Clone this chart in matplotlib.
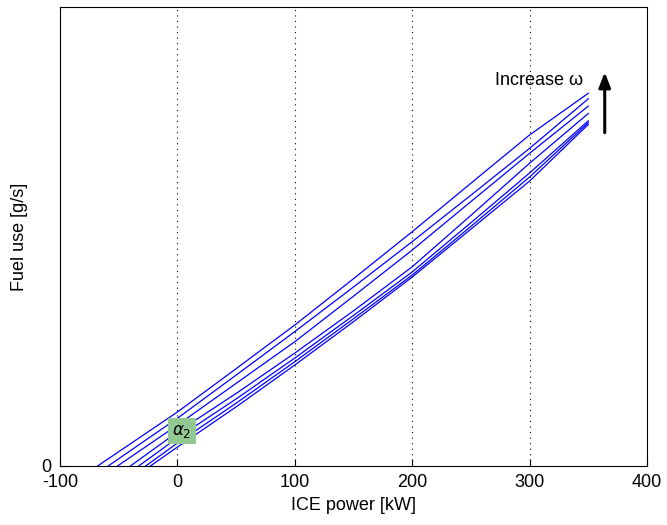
import matplotlib.pyplot as plt

plt.rcParams['font.family'] = ['Liberation Sans', 'DejaVu Sans']
plt.rcParams['axes.unicode_minus'] = False

# ICE power [kW] sample points per curve and fuel use [g/s]
x_points = [
    [-68, 0, 50, 100, 150, 200, 250, 300, 350],
    [-59, 0, 50, 100, 150, 200, 250, 300, 350],
    [-51, 0, 50, 100, 150, 200, 250, 300, 350],
    [-40, 0, 50, 100, 150, 200, 250, 300, 350],
    [-33, 0, 50, 100, 150, 200, 250, 300, 350],
    [-27, 0, 50, 100, 150, 200, 250, 300, 350],
    [-23, 0, 50, 100, 150, 200, 250, 300, 350],
]
fuel_use = [
    [0, 2.94, 5.30, 7.68, 10.20, 12.76, 15.40, 18.03, 20.30],
    [0, 2.60, 4.95, 7.32, 9.75, 12.22, 14.75, 17.30, 20.00],
    [0, 2.23, 4.50, 6.77, 9.25, 11.76, 14.40, 17.03, 19.60],
    [0, 1.85, 3.95, 6.15, 8.45, 10.85, 13.65, 16.49, 19.20],
    [0, 1.53, 3.65, 5.88, 8.20, 10.57, 13.25, 15.96, 18.80],
    [0, 1.25, 3.42, 5.68, 8.02, 10.40, 13.05, 15.74, 18.70],
    [0, 1.03, 3.22, 5.50, 7.86, 10.29, 12.90, 15.52, 18.60],
]

fig = plt.figure(figsize=(6.67, 5.25), dpi=100)
ax = fig.add_axes([0.090, 0.1124, 0.880, 0.8743])

for xs, ys in zip(x_points, fuel_use):
    ax.plot(xs, ys, color='#0000ff', lw=0.9)

ax.set_xlim(-100, 400)
ax.set_ylim(0, 25)
ax.set_xticks([-100, 0, 100, 200, 300, 400])
ax.set_yticks([0])
for xv in [0, 100, 200, 300]:
    ax.axvline(xv, color='black', ls=(0, (1, 4)), lw=0.8)
ax.tick_params(direction='in', labelsize=13, length=5, pad=6)
ax.set_xlabel('ICE power [kW]', fontsize=13)
ax.set_ylabel('Fuel use [g/s]', fontsize=13, labelpad=10)

# annotations
ax.text(3.8, 1.9, r'$\alpha_2$', fontsize=12, ha='center', va='center',
        bbox=dict(boxstyle='square,pad=0.25', fc='#92c892', ec='none'))
ax.text(346, 21.0, 'Increase \u03c9', fontsize=13, ha='right', va='center')
ax.annotate('', xy=(364, 21.6), xytext=(364, 18.0),
            arrowprops=dict(arrowstyle='-|>,head_width=0.35,head_length=0.9',
                            color='black', lw=2.2))

fig.savefig('out.png', dpi=100)
